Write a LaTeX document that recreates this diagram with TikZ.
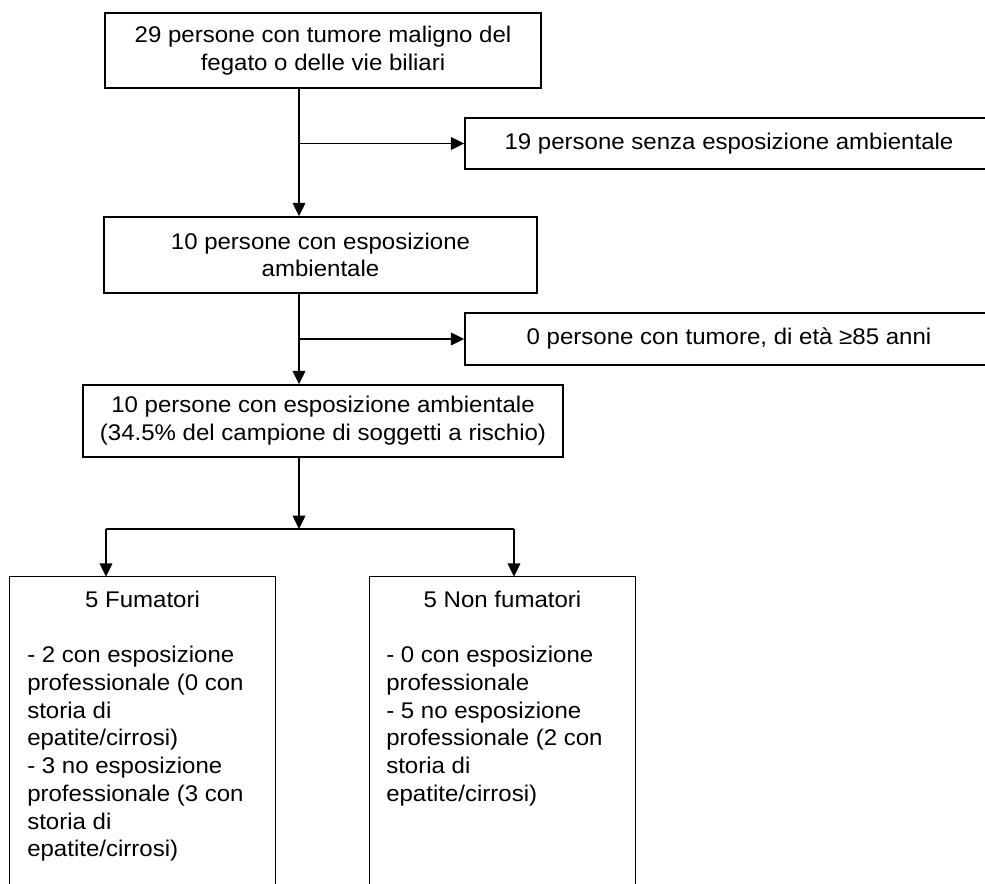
\documentclass[tikz,border=0pt]{standalone}
\usepackage{fontspec}
\setmainfont{Liberation Sans}[FakeStretch=1.06]
\usetikzlibrary{arrows.meta}
\newcommand\fs{\fontsize{17}{20.8}\selectfont}
\tikzset{
  box/.style={draw, line width=1.1pt, inner sep=0pt, align=center, font=\fs},
  hidden/.style={inner sep=0pt},
  conn/.style={line width=1pt},
  arr/.style={conn, -{Triangle[length=10pt,width=9.5pt]}},
  txt/.style={inner sep=0pt, align=left, font=\fs},
  ttl/.style={inner sep=0pt, font=\fs},
}
\begin{document}
\begin{tikzpicture}[x=0.75pt,y=-0.75pt]
\useasboundingbox (0,0) rectangle (985,884);
% boxes
\node[box, minimum width={436*0.75pt}, minimum height={75*0.75pt}] (b1) at (323,50.5)
  {29 persone con tumore maligno del\\fegato o delle vie biliari};
\node[box, minimum width={528*0.75pt}, minimum height={51*0.75pt}] (b2) at (729,143.5)
  {19 persone senza esposizione ambientale};
\node[box, minimum width={433*0.75pt}, minimum height={76*0.75pt}] (b3) at (320.5,255)
  {10 persone con esposizione\\ambientale};
\node[box, minimum width={528*0.75pt}, minimum height={52*0.75pt}] (b4) at (729,339)
  {0 persone con tumore, di età ≥85 anni};
\node[box, minimum width={480*0.75pt}, minimum height={72*0.75pt}] (b5) at (323,421)
  {10 persone con esposizione ambientale\\(34.5\% del campione di soggetti a rischio)};
\node[hidden, minimum width={265*0.75pt}, minimum height={323*0.75pt}] (b6) at (142.5,738.5) {};
\node[hidden, minimum width={265*0.75pt}, minimum height={323*0.75pt}] (b7) at (502.5,738.5) {};
\draw[line width=1.1pt] (b6.south west) -- (b6.north west) -- (b6.north east) -- (b6.south east);
\draw[line width=1.1pt] (b7.south west) -- (b7.north west) -- (b7.north east) -- (b7.south east);
% texts in bottom boxes
\node[ttl, anchor=base] (t6) at (142.5,607) {5 Fumatori};
\node[ttl, anchor=base] (t7) at (502.5,607) {5 Non fumatori};
\node[txt, anchor=north west] (l6) at (27,646)
  {- 2 con esposizione\\professionale (0 con\\storia di\\epatite/cirrosi)\\- 3 no esposizione\\professionale (3 con\\storia di\\epatite/cirrosi)};
\node[txt, anchor=north west] (l7) at (386,646)
  {- 0 con esposizione\\professionale\\- 5 no esposizione\\professionale (2 con\\storia di\\epatite/cirrosi)};
% connectors
\coordinate (tr) at (299,0);
\coordinate (bar) at (299,529);
\coordinate (al) at (106,529);
\coordinate (ar) at (514,529);
\draw[arr] (b1.south -| tr) -- (b3.north -| tr);
\draw[arr] (b2.west -| tr) -- (b2.west);
\draw[arr] (b3.south -| tr) -- (b5.north -| tr);
\draw[arr] (b4.west -| tr) -- (b4.west);
\draw[arr] (b5.south -| tr) -- (bar);
\draw[conn] (al) -- (ar);
\draw[arr] (al) -- (b6.north -| al);
\draw[arr] (ar) -- (b7.north -| ar);
\end{tikzpicture}
\end{document}
